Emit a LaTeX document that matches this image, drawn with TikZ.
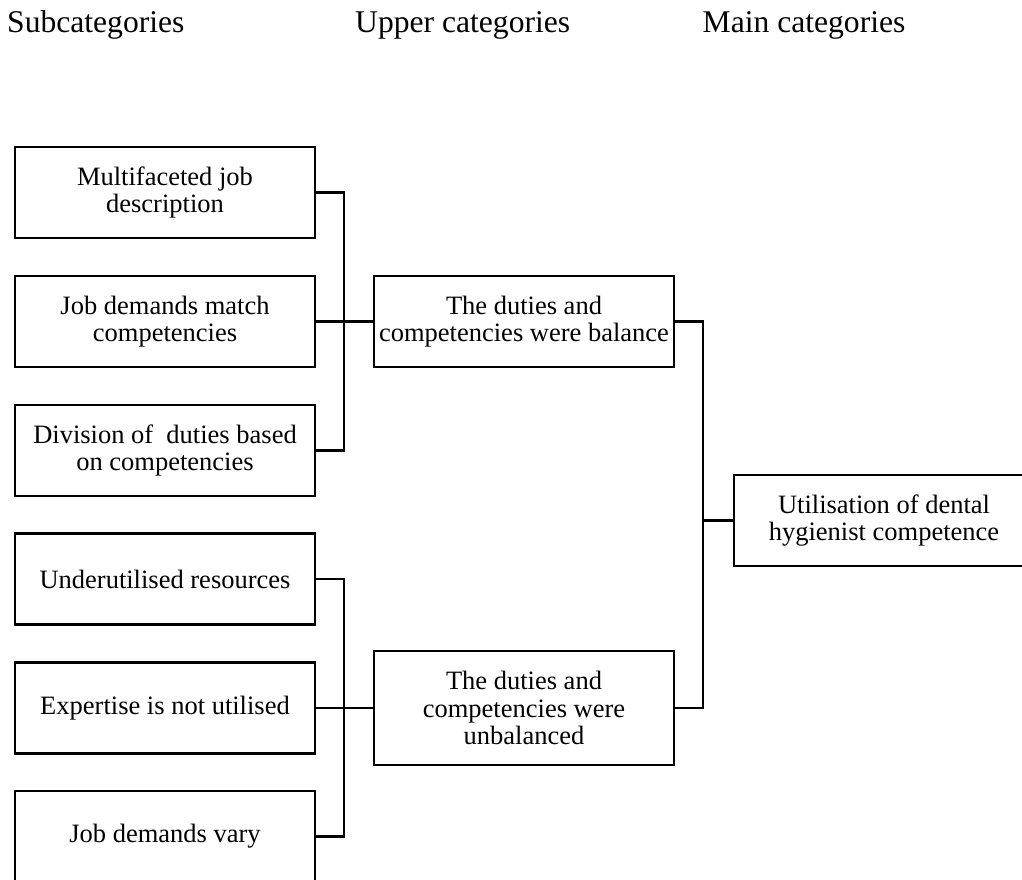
\documentclass[tikz,border=0pt]{standalone}
\usepackage{fontspec}
\setmainfont{Liberation Serif}
\begin{document}
\begin{tikzpicture}[x=1pt,y=-1pt,
  box/.style={draw, line width=2.6pt, minimum width=300pt, minimum height=91pt,
    inner sep=0pt, align=center, font=\fontsize{26.5}{27.5}\selectfont},
  hdr/.style={anchor=base west, inner sep=0pt, font=\fontsize{31.6}{34}\selectfont},
  link/.style={line width=2.6pt}]
\useasboundingbox (0,0) rectangle (1022,880);
\clip (0,0) rectangle (1022,880);
% headers
\node[hdr] (h1) at (7,33) {Subcategories};
\node[hdr] (h2) at (355,33) {Upper categories};
\node[hdr] (h3) at (702.5,33) {Main categories};
% subcategories
\node[box] (s1) at (165,192.5) {Multifaceted job\\description};
\node[box] (s2) at (165,321.5) {Job demands match\\competencies};
\node[box] (s3) at (165,450.5) {Division of\ \ duties based\\on competencies};
\node[box] (s4) at (165,579) {Underutilised resources};
\node[box] (s5) at (165,708) {Expertise is not utilised};
\node[box] (s6) at (165,836.5) {Job demands vary};
% upper categories
\node[box] (u1) at (524,321.5) {The duties and\\competencies were balance};
\node[box, minimum height=114pt] (u2) at (524,708) {The duties and\\competencies were\\unbalanced};
% main category
\node[box] (m) at (884,520.5) {Utilisation of dental\\hygienist competence};
% bracket coordinates
\coordinate (lb) at (344,0);
\coordinate (rb) at (703,0);
% connectors
\draw[link] (s1.east) -- (s1.east -| lb) -- (s3.east -| lb) -- (s3.east);
\draw[link] (s2.east) -- (u1.west);
\draw[link] (s4.east) -- (s4.east -| lb) -- (s6.east -| lb) -- (s6.east);
\draw[link] (s5.east) -- (u2.west);
\draw[link] (u1.east) -- (u1.east -| rb) -- (u2.east -| rb) -- (u2.east);
\draw[link] (m.west -| rb) -- (m.west);
\end{tikzpicture}
\end{document}
